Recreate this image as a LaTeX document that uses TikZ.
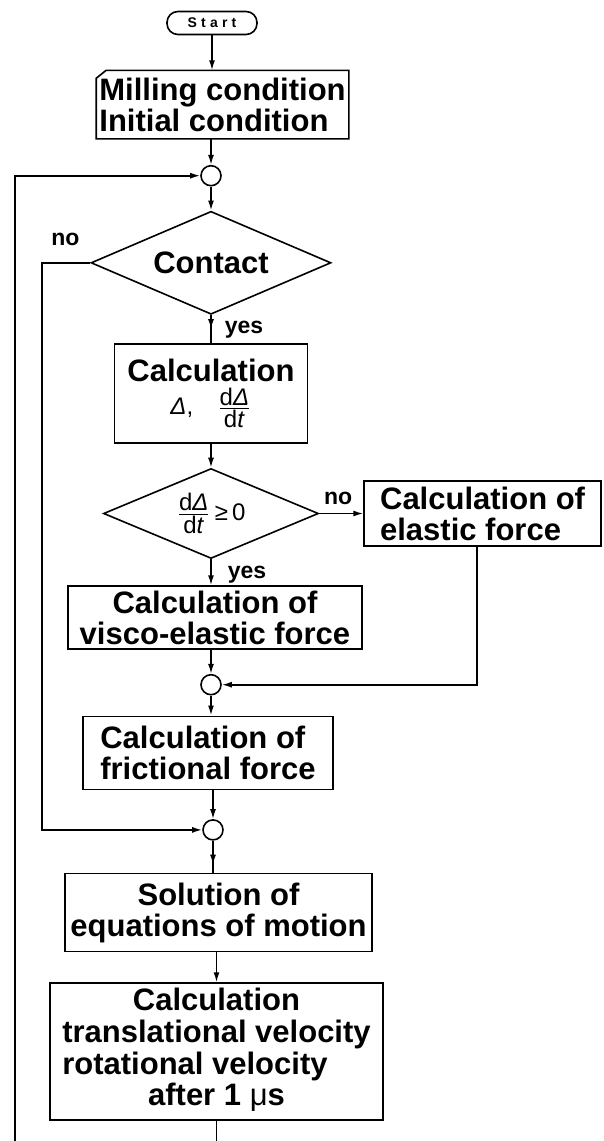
\documentclass[tikz,border=0pt]{standalone}
\usepackage{amsmath}
\usepackage{fontspec}
\setmainfont{Liberation Sans}
\usetikzlibrary{positioning,arrows.meta,shapes.geometric,decorations.markings}

\newcommand{\rateDelta}{\ensuremath{\frac{\mbox{d\textit{Δ}}}{\mbox{d\textit{t}}}}}

\begin{document}
\begin{tikzpicture}[
node distance=12pt,
line width=0.8pt,
box/.style={draw, inner sep=1pt, align=center, font=\fontsize{15.5}{15.5}\selectfont\bfseries},
card/.style={box, draw=none},
decision/.style={draw, diamond, aspect=2.3, inner sep=0pt, font=\fontsize{15.5}{15.5}\selectfont\bfseries},
junction/.style={draw, circle, minimum size=10pt, inner sep=0pt},
term/.style={draw, rounded corners=5.5pt, minimum width=45pt, minimum height=11.5pt, inner sep=0pt, font=\fontsize{7}{8}\selectfont\bfseries},
lbl/.style={inner sep=0pt, font=\fontsize{11.5}{12}\selectfont\bfseries},
arrow/.style={-{Latex[length=5pt,width=3pt]}},
midarrow/.style={postaction={decorate}, decoration={markings, mark=at position #1 with {\arrow{Latex[length=5pt,width=3pt]}}}}
]
\useasboundingbox (0,0) rectangle (302pt,-570.5pt);
\coordinate (bottom) at (0,-570.5pt);
\coordinate (loopend) at (7.5pt,-570.5pt);

% main column
\node[term] (start) at (106pt,-11.5pt) {\addfontfeature{LetterSpace=30}Start};
\node[card, below=17.5pt of start, xshift=5.25pt, minimum width=125.5pt, minimum height=33.5pt, align=left] (input) {Milling condition\\Initial condition};
\draw (input.north west) ++(0,-4pt) -- ++(5pt,4pt) -- (input.north east) -- (input.south east) -- (input.south west) -- cycle;
\node[junction, below=13pt of input, xshift=-5.75pt] (j1) {};
\node[decision, below=of j1, minimum width=120pt, minimum height=51.5pt] (contact) {Contact};
\node[box, below=14pt of contact, minimum width=96.5pt, minimum height=49.5pt] (calc) {Calculation\\[1pt]{\mdseries\fontsize{12}{13}\selectfont\textit{Δ},\quad\rateDelta\hspace{10pt}}};
\node[decision, below=of calc, aspect=2.4, minimum width=107.5pt, minimum height=45pt] (sign) {\mdseries\fontsize{12}{13}\selectfont\rateDelta\,≥\,0};
\node[box, right=22pt of sign, minimum width=118.5pt, minimum height=32.5pt, align=left] (elastic) {Calculation of\\elastic force};
\node[box, below=13pt of sign, xshift=2pt, minimum width=147pt, minimum height=31.5pt] (visco) {Calculation of\\visco-elastic force};
\node[junction, below=of visco, xshift=-2pt] (j2) {};
\node[box, below=10pt of j2, xshift=-1.5pt, minimum width=125pt, minimum height=36.5pt, align=left] (friction) {Calculation of\\frictional force};
\node[junction, below=14.5pt of friction, xshift=2.5pt] (j3) {};
\node[box, below=16pt of j3, xshift=2.75pt, minimum width=153.5pt, minimum height=39pt] (solution) {Solution of\\equations of motion};
\node[box, below=15pt of solution, xshift=-1pt, minimum width=166.5pt, minimum height=68.5pt] (update) {\begin{tabular}{@{}l@{}}\multicolumn{1}{@{}c@{}}{Calculation}\\translational velocity\\rotational velocity\\\multicolumn{1}{@{}c@{}}{after 1 {\mdseries μ}s}\end{tabular}};

% labels
\node[lbl, above left=8pt and 5pt of contact.west] (no1) {no};
\node[lbl, below right=2.5pt and 6.5pt of contact.south] (yes1) {yes};
\node[lbl, above right=4pt and 2pt of sign.east] (no2) {no};
\node[lbl, below right=3pt and 8pt of sign.south] (yes2) {yes};

% connectors
\draw[arrow] (start) -- (start |- input.north);
\draw[arrow] (j1 |- input.south) -- (j1);
\draw[arrow] (j1) -- (contact);
\draw[midarrow=0.5] (contact.south) -- (calc.north);
\draw[arrow] (calc) -- (sign);
\draw[arrow] (sign.east) -- (sign.east -| elastic.west);
\draw[arrow] (sign.south) -- (sign.south |- visco.north);
\draw[arrow] (j2 |- visco.south) -- (j2);
\draw[arrow] ([xshift=-2.75pt]elastic.south) |- (j2);
\draw[arrow] (j2) -- (j2 |- friction.north);
\draw[arrow] (j3 |- friction.south) -- (j3);
\draw[arrow] (contact.west) -- ++(-24pt,0) |- (j3);
\draw[midarrow=0.75] (j3) -- (j3 |- solution.north);
\draw[arrow] (update.north |- solution.south) -- (update.north);
\draw (update.south) -- (update.south |- bottom);
\draw[arrow] (loopend) |- (j1);
\end{tikzpicture}
\end{document}
